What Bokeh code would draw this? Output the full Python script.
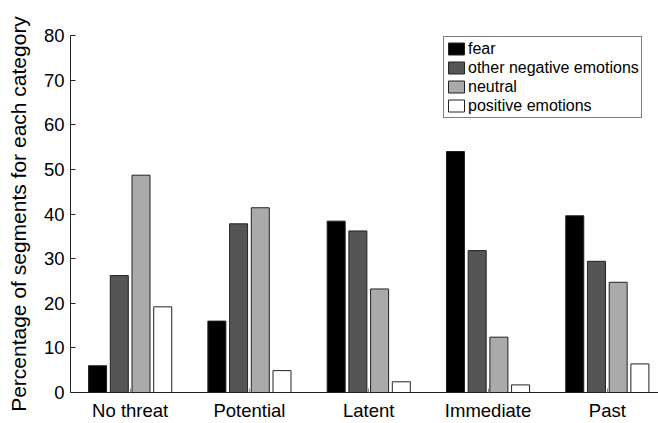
from bokeh.plotting import figure
from bokeh.models import Range1d, FixedTicker, Legend, LegendItem, ColumnDataSource
from bokeh.embed import file_html
from bokeh.resources import INLINE

categories = ["No threat", "Potential", "Latent", "Immediate", "Past"]
series_names = ["fear", "other negative emotions", "neutral", "positive emotions"]
fear = [6.0, 16.0, 38.4, 54.0, 39.6]
other_negative = [26.2, 37.8, 36.2, 31.8, 29.4]
neutral = [48.7, 41.4, 23.2, 12.4, 24.7]
positive = [19.2, 4.9, 2.4, 1.7, 6.4]
y_ticks = [0, 10, 20, 30, 40, 50, 60, 70, 80]

series = [fear, other_negative, neutral, positive]
colors = ["#000000", "#555555", "#aaaaaa", "#ffffff"]

FONT = "Liberation Sans"

p = figure(width=658, height=423, output_backend="svg", toolbar_location=None,
           x_range=Range1d(0.5, 5.429), y_range=Range1d(0, 80),
           min_border_left=70, min_border_right=0, min_border_top=35,
           min_border_bottom=29)
p.outline_line_color = None
p.xgrid.visible = False
p.ygrid.visible = False

centers = list(range(1, len(categories) + 1))
spacing = 0.182
bar_w = 0.151
items = []
for k, (vals, name, col) in enumerate(zip(series, series_names, colors)):
    xs = [c + (k - 1.5) * spacing for c in centers]
    src = ColumnDataSource(dict(x=xs, top=vals))
    r = p.vbar(x="x", top="top", width=bar_w, bottom=0, source=src,
               fill_color=col, line_color="#222222", line_width=1)
    items.append(LegendItem(label=name, renderers=[r]))

legend = Legend(items=items, location=(373, 274))
legend.label_text_font = FONT
legend.label_text_font_size = "16px"
legend.label_text_color = "black"
legend.glyph_width = 20
legend.glyph_height = 15
legend.label_height = 19
legend.label_standoff = 2
legend.spacing = 0
legend.padding = 2
legend.margin = 0
legend.border_line_color = "black"
legend.border_line_width = 1
legend.background_fill_alpha = 1
p.add_layout(legend, "center")

p.xaxis.ticker = FixedTicker(ticks=centers)
p.xaxis.major_label_overrides = {c: lab for c, lab in zip(centers, categories)}
p.yaxis.ticker = FixedTicker(ticks=y_ticks)
p.yaxis.axis_label = "Percentage of segments for each category"

for ax in (p.xaxis[0], p.yaxis[0]):
    ax.axis_line_color = "#222222"
    ax.axis_line_width = 1
    ax.major_tick_in = 5
    ax.major_tick_out = 0
    ax.minor_tick_line_color = None
    ax.major_tick_line_color = "#222222"
    ax.major_label_text_font = FONT
    ax.major_label_text_font_size = "18.5px"
    ax.major_label_text_color = "black"
    ax.axis_label_text_font = FONT
    ax.axis_label_text_font_size = "21px"
    ax.axis_label_text_font_style = "normal"
    ax.axis_label_text_color = "black"

p.xaxis.major_tick_in = 4
p.xaxis.major_tick_line_color = "#888888"
p.xaxis.major_label_standoff = 7
p.yaxis.major_label_standoff = 6
p.yaxis.axis_label_standoff = 11

open("out.html", "w").write(file_html(p, INLINE))
